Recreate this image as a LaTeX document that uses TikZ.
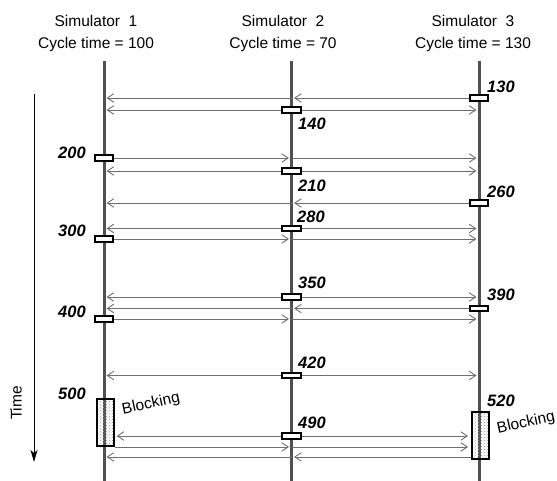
\documentclass[tikz,border=0pt]{standalone}
\usepackage{fontspec}
\setmainfont{Liberation Sans}
\usetikzlibrary{arrows.meta,patterns,positioning}
\definecolor{lanecol}{HTML}{505050}
\definecolor{msgcol}{HTML}{6E6E6E}

\begin{document}
\begin{tikzpicture}[x=1pt,y=-1pt,
    lane/.style={draw=lanecol, line width=3pt},
    msg/.style={draw=msgcol, line width=0.9pt, -{Straight Barb[length=6.5pt,width=8.5pt]}, shorten >=2.5pt},
    tick/.style={draw, line width=2pt, fill=white, minimum width=18.5pt, minimum height=5.5pt, inner sep=0pt},
    blockbox/.style={draw, line width=2.4pt, pattern=crosshatch dots, pattern color=gray!80, minimum width=17pt, inner sep=0pt},
    stamp/.style={font=\fontsize{16.5}{17}\selectfont\bfseries\itshape, inner sep=0pt, anchor=west},
    head/.style={font=\fontsize{15.5}{22}\selectfont, align=center},
    blk/.style={font=\fontsize{15.5}{16}\selectfont, rotate=12}]
    \useasboundingbox (0,0) rectangle (557,481);

    % Define simulator headers
    \node[head] (sim1) at (96,33) {Simulator~~1\\Cycle time = 100};
    \node[head] (sim2) at (283,33) {Simulator~~2\\Cycle time = 70};
    \node[head] (sim3) at (473,33) {Simulator~~3\\Cycle time = 130};

    % Time axis
    \coordinate (tstart) at (34,94);
    \coordinate (tend) at (34,462);
    \draw[line width=1pt, -{Stealth[length=12pt,width=7pt,inset=3pt]}] (tstart) -- (tend);
    \node[rotate=90, font=\fontsize{15.5}{16}\selectfont] (tlabel) at (16,403) {Time};

    % Draw simulator lanes
    \coordinate (l1top) at (104,61);
    \coordinate (l2top) at (291.5,61);
    \coordinate (l3top) at (479,61);
    \coordinate (l1bot) at (104,481);
    \coordinate (l2bot) at (291.5,481);
    \coordinate (l3bot) at (479,481);
    \draw[lane] (l1top) -- (l1bot);
    \draw[lane] (l2top) -- (l2bot);
    \draw[lane] (l3top) -- (l3bot);

    % Define cycle ticks and blocking boxes
    \node[tick] at (479,98) (e130) {};
    \node[tick] at (291.5,110) (e140) {};
    \node[tick] at (104,158) (e200) {};
    \node[tick] at (291.5,171) (e210) {};
    \node[tick] at (479,203) (e260) {};
    \node[tick] at (291.5,228.5) (e280) {};
    \node[tick] at (104,239) (e300) {};
    \node[tick] at (291.5,297) (e350) {};
    \node[tick] at (479,308.5) (e390) {};
    \node[tick] at (104,319) (e400) {};
    \node[tick] at (291.5,375.5) (e420) {};
    \node[tick] at (291.5,436) (e490) {};
    \node[blockbox, minimum height=46.5pt] at (105.7,422.5) (b500) {};
    \node[blockbox, minimum height=46.5pt] at (480.3,435.5) (b520) {};
    \coordinate (s520) at ([yshift=3pt]b520.south west);

    % Cycle time labels
    \node[stamp] at (487,87) (t130) {130};
    \node[stamp] at (298,124) (t140) {140};
    \node[stamp] at (58,153) (t200) {200};
    \node[stamp] at (298,186) (t210) {210};
    \node[stamp] at (487,192) (t260) {260};
    \node[stamp] at (297,217) (t280) {280};
    \node[stamp] at (58,231) (t300) {300};
    \node[stamp] at (298,283) (t350) {350};
    \node[stamp] at (487,295) (t390) {390};
    \node[stamp] at (58,312) (t400) {400};
    \node[stamp] at (298,363) (t420) {420};
    \node[stamp] at (58,394) (t500) {500};
    \node[stamp] at (298,423) (t490) {490};
    \node[stamp] at (487,401) (t520) {520};
    \node[blk] at (151,404) (w500) {Blocking};
    \node[blk] at (526,423) (w520) {Blocking};

    % Messages from simulator 1
    \draw[msg] (e200.east) -- (e200 -| l2top);
    \draw[msg] (e200 -| l2top) -- (e200 -| l3top);
    \draw[msg] (e300.east) -- (e300 -| l2top);
    \draw[msg] (e300 -| l2top) -- (e300 -| l3top);
    \draw[msg] (e400.east) -- (e400 -| l2top);
    \draw[msg] (e400 -| l2top) -- (e400 -| l3top);
    \draw[msg] (b500.south east) -- (b500.south east -| l2top);
    \draw[msg] (b500.south east -| l2top) -- (b500.south east -| b520.west);

    % Messages from simulator 2
    \draw[msg] (e140.west) -- (e140 -| l1top);
    \draw[msg] (e140.east) -- (e140 -| l3top);
    \draw[msg] (e210.west) -- (e210 -| l1top);
    \draw[msg] (e210.east) -- (e210 -| l3top);
    \draw[msg] (e280.west) -- (e280 -| l1top);
    \draw[msg] (e280.east) -- (e280 -| l3top);
    \draw[msg] (e350.west) -- (e350 -| l1top);
    \draw[msg] (e350.east) -- (e350 -| l3top);
    \draw[msg] (e420.west) -- (e420 -| l1top);
    \draw[msg] (e420.east) -- (e420 -| l3top);
    \draw[msg, shorten >=1.2pt] (e490.west) -- (e490 -| b500.east);
    \draw[msg] (e490.east) -- (e490 -| b520.west);

    % Messages from simulator 3
    \draw[msg] (e130.west) -- (e130 -| l2top);
    \draw[msg] (e130 -| l2top) -- (e130 -| l1top);
    \draw[msg] (e260.west) -- (e260 -| l2top);
    \draw[msg] (e260 -| l2top) -- (e260 -| l1top);
    \draw[msg] (e390.west) -- (e390 -| l2top);
    \draw[msg] (e390 -| l2top) -- (e390 -| l1top);
    \draw[msg] (s520) -- (s520 -| l2top);
    \draw[msg] (s520 -| l2top) -- (s520 -| l1top);

\end{tikzpicture}
\end{document}
